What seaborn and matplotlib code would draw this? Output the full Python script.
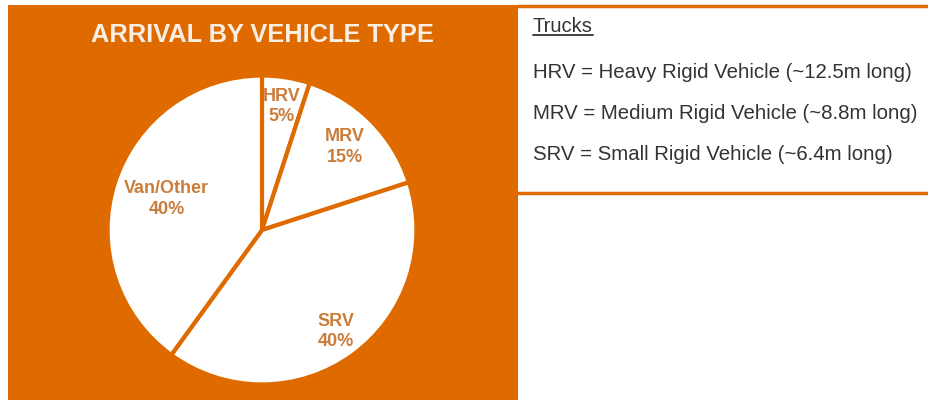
import matplotlib
matplotlib.use("Agg")
import matplotlib.pyplot as plt
from matplotlib.lines import Line2D
import numpy as np
import seaborn as sns

# ---- data ----
categories = ["HRV", "MRV", "SRV", "Van/Other"]
shares = [5, 15, 40, 40]
title = "ARRIVAL BY VEHICLE TYPE"
legend_heading = "Trucks"
legend_lines = [
    "HRV = Heavy Rigid Vehicle (~12.5m long)",
    "MRV = Medium Rigid Vehicle (~8.8m long)",
    "SRV = Small Rigid Vehicle (~6.4m long)",
]

sns.set_theme(style="white")
plt.rcParams["font.family"] = ["Liberation Sans", "DejaVu Sans"]

ORANGE = "#DE6A00"
LABEL = "#CB7C3A"
TEXT = "#333333"

W, H = 929, 400
fig = plt.figure(figsize=(W / 100, H / 100), dpi=100)
fig.patch.set_facecolor("white")

def px(x0, y0, x1, y1):
    # pixel box (top-left origin) to figure fraction rect
    return (x0 / W, 1 - y1 / H, (x1 - x0) / W, (y1 - y0) / H)

# orange panel (as a background axes)
bg = fig.add_axes(px(8, 5, 518, 400), zorder=0)
bg.set_facecolor(ORANGE)
bg.set_xticks([]); bg.set_yticks([])
for s in bg.spines.values():
    s.set_visible(False)

# right box top & bottom rules
for yy in (6, 193):
    fig.add_artist(Line2D([518 / W, 1.0], [1 - yy / H] * 2, transform=fig.transFigure,
                          color=ORANGE, lw=2.5, zorder=1))

# title
fig.text(262 / W, 1 - 34.5 / H, title, ha="center", va="center", color="#FBEFE4",
         fontsize=18.3, fontweight="bold", zorder=3)

# pie
cx, cy, r = 262, 230, 156
ax = fig.add_axes(px(cx - r, cy - r, cx + r, cy + r), zorder=2)
ax.set_facecolor("none")
wedges, _ = ax.pie(shares, startangle=90, counterclock=False,
                   colors=["white"] * len(shares),
                   wedgeprops=dict(edgecolor=ORANGE, linewidth=3))
ax.set_xlim(-1.01, 1.01)
ax.set_ylim(-1.01, 1.01)
ax.set_aspect("equal")
ax.axis("off")

label_dist = [0.81, 0.76, 0.81, 0.65]
for wdg, cat, val, d in zip(wedges, categories, shares, label_dist):
    ang = np.deg2rad((wdg.theta1 + wdg.theta2) / 2)
    ax.text(d * np.cos(ang), d * np.sin(ang), f"{cat}\n{val}%", ha="center", va="center",
            color=LABEL, fontsize=13, fontweight="bold", linespacing=1.25)

# legend text
t = fig.text(533 / W, 1 - 27 / H, legend_heading, ha="left", va="center",
             color=TEXT, fontsize=14.5, zorder=3)
for i, line in enumerate(legend_lines):
    fig.text(533 / W, 1 - (72 + i * 41.5) / H, line, ha="left", va="center",
             color=TEXT, fontsize=14.7, zorder=3)

fig.canvas.draw()
bb = t.get_window_extent().transformed(fig.transFigure.inverted())
fig.add_artist(Line2D([bb.x0, bb.x1], [bb.y0 + 1.5 / H] * 2, transform=fig.transFigure,
                      color=TEXT, lw=1.3, zorder=3))

fig.savefig("out.png", dpi=100, facecolor="white")
